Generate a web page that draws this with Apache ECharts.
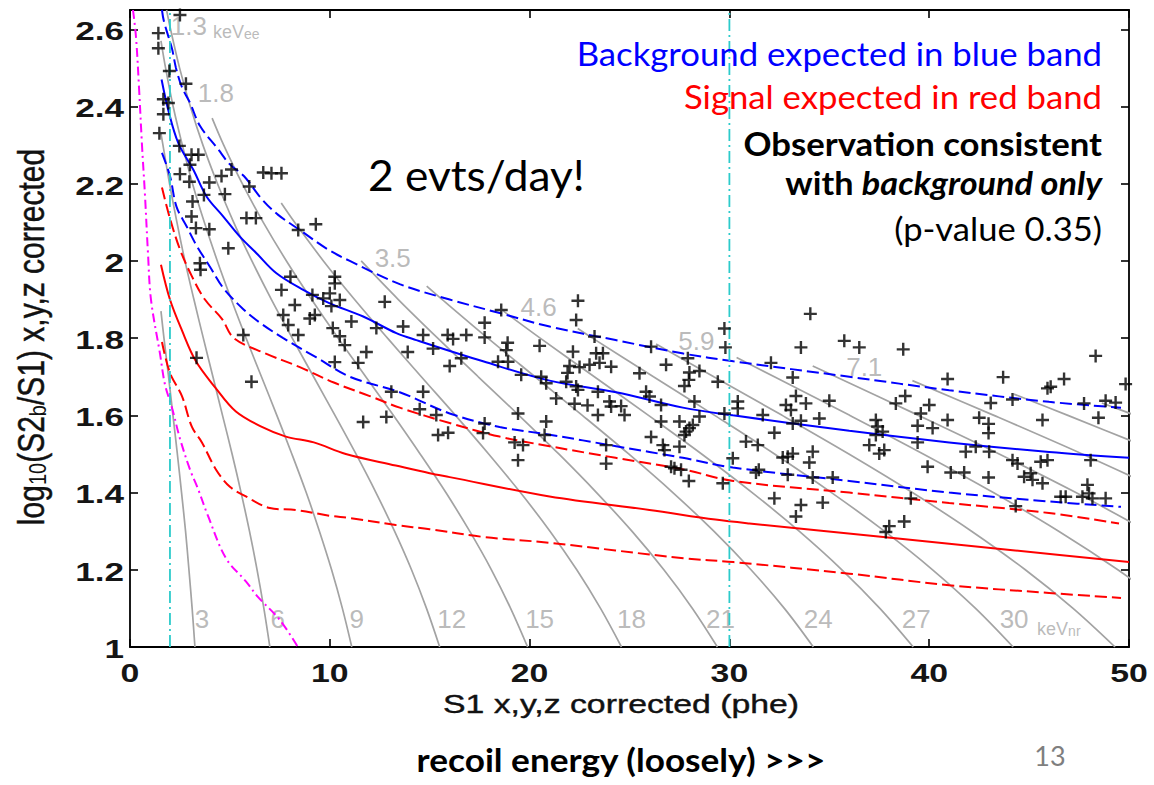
<!DOCTYPE html>
<html><head><meta charset="utf-8">
<script src="https://cdn.jsdelivr.net/npm/echarts@6/dist/echarts.min.js"></script>
<style>html,body{margin:0;padding:0;background:#fff}#c{width:1154px;height:785px}</style>
</head><body><div id="c"></div>
<script>
// ---------- axes ----------
const xTicks = [0, 10, 20, 30, 40, 50];
const yTicks = [1, 1.2, 1.4, 1.6, 1.8, 2, 2.2, 2.4, 2.6];
const xRange = [0, 50];
const yRange = [1, 2.65];

// ---------- bands ----------
const blueMedian = [[1.58,2.47],[1.92,2.39],[2.42,2.305],[3.17,2.236],[3.83,2.167],[4.67,2.115],[5.5,2.063],[6.33,2.02],[7.33,1.968],[8.67,1.925],[10,1.89],[11.67,1.856],[13.33,1.813],[14.33,1.795],[17.67,1.74],[21,1.69],[24.33,1.66],[27.67,1.62],[30.17,1.60],[36,1.56],[41,1.53],[46,1.505],[50,1.49]];
const blueUpper = [[1.6,2.65],[1.7,2.62],[2.1,2.55],[2.3,2.50],[2.6,2.45],[3.0,2.41],[3.5,2.35],[4.4,2.29],[5.0,2.25],[5.7,2.22],[6.6,2.16],[7.4,2.12],[8.5,2.08],[9.9,2.03],[11,2.0],[13.5,1.94],[16,1.90],[18.5,1.865],[21,1.83],[24.3,1.795],[27.7,1.76],[30.2,1.74],[36,1.70],[41,1.665],[46,1.635],[49.6,1.62]];
const blueLower = [[1.6,2.28],[2.0,2.22],[2.33,2.14],[2.83,2.09],[3.33,2.04],[4.0,1.985],[4.67,1.93],[5.67,1.875],[6.5,1.84],[7.67,1.80],[9.33,1.75],[11,1.70],[13.5,1.66],[16,1.605],[18.5,1.57],[21,1.55],[24.33,1.52],[27.67,1.49],[30.17,1.465],[36,1.43],[41,1.40],[46,1.377],[49.6,1.363]];
const redMedian = [[1.55,1.99],[2.0,1.90],[2.6,1.82],[3.3,1.74],[4.3,1.67],[5.3,1.61],[6.6,1.57],[7.8,1.545],[9.2,1.53],[10.8,1.50],[13.3,1.47],[15,1.45],[16,1.44],[21,1.39],[26,1.355],[29.3,1.33],[31,1.32],[37.7,1.285],[44.3,1.25],[50,1.22]];
const redUpper = [[1.6,2.19],[2.0,2.11],[2.5,2.03],[3.1,1.96],[3.75,1.90],[4.6,1.85],[5.2,1.80],[6.8,1.76],[8.5,1.725],[10.2,1.685],[12,1.65],[13.5,1.62],[16,1.58],[18.5,1.545],[21,1.52],[24.3,1.49],[27.7,1.46],[30.2,1.43],[36,1.40],[41,1.373],[46,1.347],[49.5,1.32]];
const redLower = [[1.6,1.79],[2.0,1.71],[2.6,1.65],[3.1,1.57],[3.6,1.53],[4.3,1.46],[5.0,1.415],[5.8,1.39],[7.0,1.36],[8.3,1.355],[10,1.34],[11,1.334],[13.3,1.316],[15,1.305],[17.7,1.285],[21,1.27],[24.3,1.25],[27.7,1.23],[30.2,1.22],[36,1.19],[41,1.16],[46,1.14],[49.6,1.127]];
const magentaCurve = [[0.15,2.65],[0.3,2.58],[0.45,2.45],[0.6,2.3],[0.75,2.17],[0.9,2.02],[1.05,1.9],[1.5,1.76],[1.75,1.68],[2.1,1.62],[2.5,1.54],[3.0,1.46],[3.4,1.41],[3.9,1.34],[4.8,1.23],[5.8,1.17],[6.4,1.13],[7.5,1.07],[8.4,1.0]];
const cyanX = [2, 30];

// ---------- gray energy contours ----------
const grayNr3  = [[1.55,1.87],[1.70,1.8],[1.93,1.7],[2.15,1.6],[2.37,1.5],[2.58,1.4],[2.78,1.3],[2.95,1.2],[3.11,1.1],[3.25,1.0]];
const grayNr6  = [[1.55,2.33],[1.65,2.3],[1.98,2.2],[2.35,2.1],[2.75,2.0],[3.2,1.9],[3.67,1.8],[4.15,1.7],[4.63,1.6],[5.11,1.5],[5.56,1.4],[5.98,1.3],[6.36,1.2],[6.7,1.1],[7.0,1.0]];
const grayNr9  = [[1.55,2.57],[1.78,2.5],[2.16,2.4],[2.62,2.3],[3.13,2.2],[3.72,2.1],[4.37,2.0],[5.07,1.9],[5.81,1.8],[6.58,1.7],[7.35,1.6],[8.10,1.5],[8.82,1.4],[9.48,1.3],[10.09,1.2],[10.63,1.1],[11.1,1.0]];
const grayNr12 = [[1.83,2.65],[2.03,2.6],[2.48,2.5],[3.02,2.4],[3.65,2.3],[4.38,2.2],[5.19,2.1],[6.10,2.0],[7.08,1.9],[8.12,1.8],[9.19,1.7],[10.26,1.6],[11.31,1.5],[12.31,1.4],[13.24,1.3],[14.09,1.2],[14.84,1.1],[15.5,1.0]];
const grayNr15 = [[4.11,2.37],[4.69,2.3],[5.62,2.2],[6.67,2.1],[7.83,2.0],[9.09,1.9],[10.42,1.8],[11.8,1.7],[13.18,1.6],[14.52,1.5],[15.81,1.4],[17.0,1.3],[18.09,1.2],[19.05,1.1],[19.9,1.0]];
const grayNr18 = [[7.57,2.15],[8.24,2.1],[9.68,2.0],[11.24,1.9],[12.89,1.8],[14.58,1.7],[16.29,1.6],[17.95,1.5],[19.54,1.4],[21.02,1.3],[22.36,1.2],[23.55,1.1],[24.6,1.0]];
const grayNr21 = [[11.57,2.0],[13.43,1.9],[15.4,1.8],[17.43,1.7],[19.47,1.6],[21.46,1.5],[23.35,1.4],[25.12,1.3],[26.72,1.2],[28.15,1.1],[29.4,1.0]];
const grayNr24 = [[14.85,1.935],[15.63,1.9],[17.91,1.8],[20.27,1.7],[22.64,1.6],[24.96,1.5],[27.17,1.4],[29.22,1.3],[31.08,1.2],[32.75,1.1],[34.2,1.0]];
const grayNr27 = [[18.69,1.87],[20.53,1.8],[23.24,1.7],[25.95,1.6],[28.61,1.5],[31.14,1.4],[33.49,1.3],[35.63,1.2],[37.53,1.1],[39.2,1.0]];
const grayNr30 = [[22.41,1.825],[23.15,1.8],[26.2,1.7],[29.26,1.6],[32.26,1.5],[35.11,1.4],[37.76,1.3],[40.17,1.2],[42.32,1.1],[44.2,1.0]];
const grayNr33 = [[26.33,1.785],[29.22,1.7],[32.64,1.6],[35.98,1.5],[39.16,1.4],[42.12,1.3],[44.81,1.2],[47.2,1.1],[49.3,1.0]];
const grayNr36 = [[30.36,1.75],[32.25,1.7],[36.02,1.6],[39.7,1.5],[43.21,1.4],[46.48,1.3],[49.44,1.2],[52.09,1.1]];
const grayNr39 = [[34.17,1.728],[35.33,1.7],[39.46,1.6],[43.5,1.5],[47.34,1.4],[50.92,1.3]];
const grayNr42 = [[39.16,1.69],[43.24,1.6],[47.66,1.5],[51.87,1.4]];
const grayNr45 = [[44.24,1.655],[46.94,1.6],[51.74,1.5]];
const grayNr48 = [[48.64,1.632],[50.32,1.6]];

// contour labels
const nrLabelText = ['3','6','9','12','15','18','21','24','27','30'];
const nrLabelX = [3.6, 7.4, 11.35, 16.1, 20.5, 25.1, 29.55, 34.45, 39.35, 44.25];
const nrLabelY = 1.073;
const eeLabelText = ['1.3','1.8','3.5','4.6','5.9','7.1'];
const eeLabelX = [2.95, 4.3, 13.15, 20.45, 28.35, 36.75];
const eeLabelY = [2.609, 2.435, 2.008, 1.881, 1.793, 1.725];
const unitLabels = [['{k|keV}{s|nr}', 45.4, 1.047], ['{k|keV}{s|ee}', 4.15, 2.593]];

// ---------- observed events ----------
const events = [
[2.5,2.637],[1.42,2.59],[1.42,2.551],[1.97,2.492],[2.8,2.459],[1.67,2.419],[1.92,2.409],[1.67,2.38],[1.47,2.331],[2.47,2.298],[3.08,2.275],[3.42,2.275],[3.0,2.249],[5.08,2.237],[6.67,2.229],[7.08,2.227],[7.58,2.227],[2.5,2.225],[2.97,2.205],[3.97,2.203],[4.58,2.22],[5.97,2.193],[3.7,2.171],[4.75,2.173],[3.13,2.154],[5.83,2.111],[6.3,2.111],[3.08,2.115],[3.3,2.085],[3.97,2.082],[8.42,2.08],[9.3,2.095],[4.92,2.033],[3.5,1.994],[3.53,1.977],[8.03,1.959],[7.58,1.925],[9.13,1.912],[10.25,1.959],[10.25,1.942],[10.0,1.916],[10.5,1.899],[8.25,1.886],[9.67,1.903],[10.08,1.883],[12.75,1.894],[7.67,1.86],[9.25,1.86],[9.0,1.851],[7.92,1.834],[11.08,1.843],[12.33,1.826],[13.67,1.83],[8.42,1.808],[10.5,1.805],[5.67,1.808],[14.67,1.808],[10.15,1.826],[10.75,1.782],[11.83,1.764],[13.9,1.764],[10.25,1.738],[11.42,1.736],[3.33,1.749],[6.08,1.687],[13.08,1.661],[14.67,1.661],[14.5,1.616],[11.67,1.583],[12.83,1.596],
[15.17,1.773],[15.9,1.808],[16.17,1.798],[16.83,1.808],[17.75,1.84],[17.75,1.802],[18.58,1.873],[18.9,1.788],[18.83,1.769],[16.58,1.748],[16.0,1.728],[18.42,1.739],[18.92,1.739],[20.5,1.78],[22.42,1.897],[22.33,1.847],[19.58,1.705],[20.58,1.70],[20.83,1.683],[22.0,1.728],[21.9,1.71],[21.83,1.687],[22.17,1.765],[22.5,1.725],[23.0,1.731],[23.25,1.804],[23.33,1.761],[23.67,1.761],[23.5,1.736],[24.08,1.726],[22.33,1.675],[22.42,1.666],[21.33,1.644],[22.25,1.63],[22.9,1.626],[23.42,1.661],[23.42,1.601],[24.0,1.636],[24.08,1.623],[24.58,1.624],[24.75,1.601],[25.5,1.709],[26.08,1.778],[25.83,1.661],[26.0,1.649],[26.58,1.627],[26.83,1.731],[27.92,1.748],[28.0,1.711],[27.97,1.692],[27.75,1.676],[28.5,1.715],[29.42,1.687],[28.25,1.636],[29.75,1.825],[29.8,1.776],[29.75,1.605],[30.42,1.636],[30.42,1.618],[30.83,1.532],[30.17,1.489],[29.67,1.424],[26.58,1.584],[27.5,1.584],[28.0,1.567],[27.83,1.558],[27.75,1.549],[28.17,1.575],[28.5,1.597],[26.08,1.544],[26.67,1.523],[26.75,1.51],[27.5,1.519],[27.08,1.467],[27.25,1.463],[27.58,1.459],[27.97,1.43],[23.83,1.523],[23.83,1.475],[20.83,1.584],[20.75,1.549],[19.42,1.605],[19.25,1.53],[19.67,1.523],[19.42,1.484],[17.75,1.579],[17.67,1.554],[15.42,1.549],[15.92,1.555],[15.33,1.601],
[34.05,1.863],[33.58,1.776],[35.75,1.793],[36.5,1.776],[38.7,1.771],[48.33,1.754],[32.08,1.736],[33.17,1.698],[40.92,1.694],[43.7,1.699],[46.75,1.694],[45.92,1.67],[46.08,1.674],[49.83,1.681],[33.33,1.65],[33.83,1.631],[32.83,1.627],[33.08,1.614],[35.0,1.638],[38.8,1.65],[38.33,1.631],[43.08,1.632],[44.17,1.641],[47.75,1.631],[48.83,1.638],[49.33,1.633],[31.67,1.601],[33.17,1.579],[33.58,1.586],[34.5,1.592],[32.25,1.555],[37.33,1.588],[37.42,1.571],[37.67,1.558],[37.33,1.549],[39.42,1.573],[40.17,1.567],[39.58,1.605],[40.0,1.627],[40.92,1.588],[42.5,1.594],[42.97,1.578],[42.97,1.554],[45.67,1.588],[48.47,1.594],[31.42,1.523],[34.17,1.506],[34.0,1.478],[33.17,1.501],[32.92,1.493],[32.67,1.491],[37.0,1.523],[37.5,1.501],[37.75,1.51],[39.42,1.53],[41.83,1.506],[42.33,1.519],[43.0,1.506],[44.17,1.484],[44.42,1.475],[45.58,1.48],[45.92,1.484],[48.08,1.484],[31.47,1.459],[31.33,1.452],[32.92,1.446],[34.17,1.439],[35.17,1.439],[39.92,1.467],[41.08,1.452],[41.75,1.452],[42.97,1.439],[44.75,1.441],[45.08,1.45],[45.17,1.433],[45.67,1.424],[47.92,1.42],[48.0,1.398],[48.17,1.385],[47.67,1.389],[46.58,1.389],[46.83,1.389],[48.83,1.385],[39.08,1.385],[32.25,1.385],[33.58,1.368],[34.67,1.374],[33.33,1.338],[44.33,1.365],[38.75,1.325],[38.0,1.313],[37.83,1.298]
];

// ---------- build chart ----------
const HELV = '"Liberation Sans", Arial, Helvetica, sans-serif';
const CALIBRI = 'Lato, "Open Sans", sans-serif';
const contours = [grayNr3, grayNr6, grayNr9, grayNr12, grayNr15, grayNr18, grayNr21, grayNr24, grayNr27, grayNr30, grayNr33, grayNr36, grayNr39, grayNr42, grayNr45, grayNr48];

function axisCommon(pos) {
  return {
    type: 'value', position: pos,
    axisLine: { show: true, onZero: false, lineStyle: { color: '#000', width: 1.8 } },
    axisTick: { show: true, inside: true, length: 8, lineStyle: { color: '#000', width: 1.6 } },
    axisLabel: { show: false }, splitLine: { show: false }
  };
}
const xAxes = ['bottom', 'top'].map(p => Object.assign(axisCommon(p), { min: xRange[0], max: xRange[1], interval: 10 }));
const yAxes = ['left', 'right'].map(p => Object.assign(axisCommon(p), { min: yRange[0], max: yRange[1], interval: 0.2 }));

const series = [];
contours.forEach(c => series.push({
  type: 'line', data: c, showSymbol: false, smooth: 0.35, silent: true, z: 1,
  lineStyle: { color: '#a3a3a3', width: 1.7 }
}));
function band(data, color, dashed) {
  return { type: 'line', data, showSymbol: false, smooth: 0.35, silent: true, z: 3,
    lineStyle: { color, width: 2, type: dashed ? [12, 5] : 'solid' } };
}
series.push(band(redLower, '#ff0000', true), band(redUpper, '#ff0000', true), band(redMedian, '#ff0000', false));
series.push(band(blueLower, '#0000ff', true), band(blueUpper, '#0000ff', true), band(blueMedian, '#0000ff', false));
series.push({ type: 'line', data: magentaCurve, showSymbol: false, smooth: 0.35, silent: true, z: 4,
  lineStyle: { color: '#ff00ff', width: 2, type: [9, 4, 2, 4] } });
cyanX.forEach(cx => series.push({ type: 'line', data: [[cx, yRange[0]], [cx, yRange[1]]], showSymbol: false, silent: true, z: 5,
  lineStyle: { color: '#2ccbcb', width: 1.8, type: [12, 4, 2, 4] } }));

// contour labels
const grayLbl = { color: '#a9a9a9', fontFamily: HELV, fontSize: 26 };
series.push({
  type: 'scatter', symbolSize: 0, silent: true, z: 2,
  data: nrLabelText.map((t, i) => ({ value: [nrLabelX[i], nrLabelY], name: t })),
  label: Object.assign({ show: true, position: 'inside', formatter: '{b}' }, grayLbl)
});
series.push({
  type: 'scatter', symbolSize: 0, silent: true, z: 2,
  data: eeLabelText.map((t, i) => ({ value: [eeLabelX[i], eeLabelY[i]], name: t })),
  label: Object.assign({ show: true, position: 'inside', formatter: '{b}' }, grayLbl)
});
series.push({
  type: 'scatter', symbolSize: 0, silent: true, z: 2,
  data: unitLabels.map(u => ({ value: [u[1], u[2]], name: u[0] })),
  label: { show: true, position: 'inside', align: 'left', formatter: '{b}',
    rich: {
      k: { color: '#a9a9a9', fontFamily: HELV, fontSize: 18, lineHeight: 18, verticalAlign: 'top' },
      s: { color: '#a9a9a9', fontFamily: HELV, fontSize: 14, lineHeight: 14, verticalAlign: 'bottom', padding: [15, 0, 0, 0] }
    } }
});
// events
series.push({
  type: 'scatter', data: events, silent: true, z: 10,
  symbol: 'path://M5.3,0H7.7V5.3H13V7.7H7.7V13H5.3V7.7H0V5.3H5.3Z', symbolSize: 13,
  itemStyle: { color: '#000' }
});

const chart = echarts.init(document.getElementById('c'), null, { renderer: 'svg' });
chart.setOption({
  animation: false, backgroundColor: '#fff',
  grid: { left: 130, right: 25, top: 10, bottom: 138 },
  xAxis: xAxes, yAxis: yAxes, series
});

// ---------- texts ----------
const g = [];
const yBottomPx = chart.convertToPixel({ yAxisIndex: 0 }, yRange[0]);
const xLeftPx = chart.convertToPixel({ xAxisIndex: 0 }, xRange[0]);
const tickFont = { fontFamily: HELV, fontSize: 26, fontWeight: 'bold', fill: '#151515' };
xTicks.forEach(v => {
  g.push({ type: 'text', x: chart.convertToPixel({ xAxisIndex: 0 }, v), y: yBottomPx + 13, scaleX: 1.3, z: 50,
    style: Object.assign({ text: String(v), align: 'center', verticalAlign: 'top' }, tickFont) });
});
yTicks.forEach(v => {
  g.push({ type: 'text', x: xLeftPx - 6, y: chart.convertToPixel({ yAxisIndex: 0 }, v) + 2, scaleX: 1.35, z: 50,
    style: Object.assign({ text: String(v), align: 'right', verticalAlign: 'middle' }, tickFont) });
});
g.push({ type: 'text', x: 621, y: 704, scaleX: 1.3, z: 50,
  style: { text: 'S1 x,y,z corrected (phe)', fontFamily: HELV, fontSize: 26, fill: '#111', align: 'center', verticalAlign: 'middle', stroke: '#111', lineWidth: 0.4 } });
g.push({ type: 'text', x: 32, y: 337, rotation: Math.PI / 2, scaleY: 1.2, z: 50,
  style: { text: '{a|log}{s|10}{a|(S2}{s|b}{a|/S1) x,y,z corrected}', fontFamily: HELV, fontSize: 30, align: 'center', verticalAlign: 'middle',
    rich: {
      a: { fontFamily: HELV, fontSize: 30, lineHeight: 30, fill: '#111', verticalAlign: 'top', stroke: '#111', lineWidth: 0.4 },
      s: { fontFamily: HELV, fontSize: 20, lineHeight: 20, fill: '#111', verticalAlign: 'bottom', padding: [14, 0, 0, 0] }
    } } });
// slide annotations
function slideText(txt, x, y, size, color, weight, align, sx) {
  return { type: 'text', x, y, z: 60, scaleX: sx || 1, style: { text: txt, fontFamily: CALIBRI, fontSize: size, fontWeight: weight || 'normal', fill: color, align: align || 'right', verticalAlign: 'middle' } };
}
g.push(slideText('Background expected in blue band', 1102, 54, 32, '#0000ff', 'normal', 'right', 1.085));
g.push(slideText('Signal expected in red band', 1102, 97, 32, '#ff0000', 'normal', 'right', 1.085));
g.push(slideText('Observation consistent', 1102, 144, 32, '#000', 'bold', 'right', 1.085));
g.push({ type: 'text', x: 1102, y: 182, z: 60, scaleX: 1.07, style: { text: '{b|with }{bi|background only}', align: 'right', verticalAlign: 'middle', fontFamily: CALIBRI, fontSize: 32,
  rich: { b: { fontFamily: CALIBRI, fontSize: 32, fontWeight: 'bold', fill: '#000' }, bi: { fontFamily: CALIBRI, fontSize: 32, fontWeight: 'bold', fontStyle: 'italic', fill: '#000' } } } });
g.push(slideText('(p-value 0.35)', 1102, 229, 32, '#000', 'normal', 'right', 1.08));
g.push(slideText('2 evts/day!', 368, 174, 43, '#000', 'normal', 'left', 1.03));
g.push(slideText('recoil energy (loosely) >>>', 621, 760, 32, '#000', 'bold', 'center', 1.1));
g.push(slideText('13', 1050, 755, 27, '#7f7f7f', 'normal', 'center'));
chart.setOption({ graphic: g });
</script>
</body></html>
